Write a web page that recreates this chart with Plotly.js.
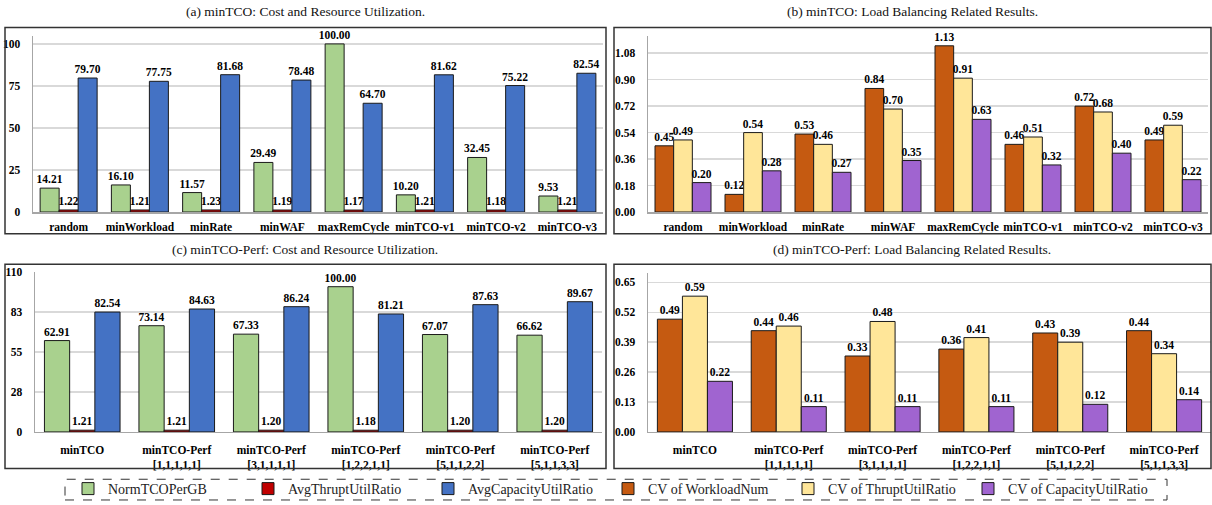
<!DOCTYPE html>
<html>
<head>
<meta charset="utf-8">
<script src="https://cdn.plot.ly/plotly-3.0.1.min.js"></script>
<style>html,body{margin:0;padding:0;background:#fff;}#chart{width:1212px;height:505px;}</style>
</head>
<body>
<div id="chart"></div>
<script>
// ---- data ----
const catsA = ['random','minWorkload','minRate','minWAF','maxRemCycle','minTCO-v1','minTCO-v2','minTCO-v3'];
const normA = [14.21, 16.10, 11.57, 29.49, 100.00, 10.20, 32.45, 9.53];
const thruA = [1.22, 1.21, 1.23, 1.19, 1.17, 1.21, 1.18, 1.21];
const capA  = [79.70, 77.75, 81.68, 78.48, 64.70, 81.62, 75.22, 82.54];

const cvWB = [0.45, 0.12, 0.53, 0.84, 1.13, 0.46, 0.72, 0.49];
const cvTB = [0.49, 0.54, 0.46, 0.70, 0.91, 0.51, 0.68, 0.59];
const cvCB = [0.20, 0.28, 0.27, 0.35, 0.63, 0.32, 0.40, 0.22];

const catsC = ['minTCO','minTCO-Perf<br>[1,1,1,1,1]','minTCO-Perf<br>[3,1,1,1,1]','minTCO-Perf<br>[1,2,2,1,1]','minTCO-Perf<br>[5,1,1,2,2]','minTCO-Perf<br>[5,1,1,3,3]'];
const normC = [62.91, 73.14, 67.33, 100.00, 67.07, 66.62];
const thruC = [1.21, 1.21, 1.20, 1.18, 1.20, 1.20];
const capC  = [82.54, 84.63, 86.24, 81.21, 87.63, 89.67];

const cvWD = [0.49, 0.44, 0.33, 0.36, 0.43, 0.44];
const cvTD = [0.59, 0.46, 0.48, 0.41, 0.39, 0.34];
const cvCD = [0.22, 0.11, 0.11, 0.11, 0.12, 0.14];

const seriesNames = ['NormTCOPerGB','AvgThruptUtilRatio','AvgCapacityUtilRatio','CV of WorkloadNum','CV of ThruptUtilRatio','CV of CapacityUtilRatio'];
const titles = ['(a) minTCO: Cost and Resource Utilization.','(b) minTCO: Load Balancing Related Results.','(c) minTCO-Perf: Cost and Resource Utilization.','(d) minTCO-Perf: Load Balancing Related Results.'];

const ticksA = [0, 25, 50, 75, 100];
const ticksB = [0, 0.18, 0.36, 0.54, 0.72, 0.90, 1.08];
const ticksC = [0, 27.5, 55, 82.5, 110];
const tickTextC = ['0', '28', '55', '83', '110'];
const ticksD = [0, 0.13, 0.26, 0.39, 0.52, 0.65];

// ---- styling ----
const W = 1212, H = 505;
const px = x => x / W;
const py = y => 1 - y / H;
const colors = ['#A9D18E', '#C00000', '#4472C4', '#C55A11', '#FFE699', '#A064D0'];
const serif = '"Liberation Serif", "Times New Roman", serif';
const labelFont = {family: serif, size: 11.5, color: '#000', weight: 'bold'};

function bar(name, x, y, idx, ax, show) {
  return {
    type: 'bar', name: name, x: x, y: y,
    xaxis: 'x' + ax, yaxis: 'y' + ax,
    marker: {color: colors[idx], line: {color: '#1a1a1a', width: 1}},
    text: y.map(v => v.toFixed(2)), textposition: 'outside',
    textfont: labelFont, constraintext: 'none', cliponaxis: false,
    showlegend: show, hoverinfo: 'x+y'
  };
}

const data = [
  bar(seriesNames[0], catsA, normA, 0, '', true),
  bar(seriesNames[1], catsA, thruA, 1, '', true),
  bar(seriesNames[2], catsA, capA, 2, '', true),
  bar(seriesNames[3], catsA, cvWB, 3, '2', true),
  bar(seriesNames[4], catsA, cvTB, 4, '2', true),
  bar(seriesNames[5], catsA, cvCB, 5, '2', true),
  bar(seriesNames[0], catsC, normC, 0, '3', false),
  bar(seriesNames[1], catsC, thruC, 1, '3', false),
  bar(seriesNames[2], catsC, capC, 2, '3', false),
  bar(seriesNames[3], catsC, cvWD, 3, '4', false),
  bar(seriesNames[4], catsC, cvTD, 4, '4', false),
  bar(seriesNames[5], catsC, cvCD, 5, '4', false)
];

function xax(d, anchor, standoff) {
  return {domain: d, anchor: anchor, showline: true, linecolor: '#A6A6A6', linewidth: 1.5,
    showgrid: false, zeroline: false, ticks: '', tickfont: labelFont, ticklabelstandoff: standoff, fixedrange: true};
}
function yax(d, anchor, range, tv, tt) {
  const o = {domain: d, anchor: anchor, range: range, tickvals: tv, showline: true, linecolor: '#A6A6A6', linewidth: 1.5,
    showgrid: true, gridcolor: '#D9D9D9', gridwidth: 1.5, zeroline: false, ticks: '', tickfont: labelFont,
    ticklabelstandoff: 9, fixedrange: true};
  if (tt) { o.ticktext = tt; } else if (range[1] < 2) { o.tickformat = '.2f'; }
  return o;
}

const topY = [py(215), py(36)];
const botY = [py(438), py(277)];

const boxLine = {color: '#333', width: 1.5};
const shapes = [
  {type: 'rect', xref: 'paper', yref: 'paper', x0: px(5), x1: px(606), y0: py(237), y1: py(28), line: boxLine},
  {type: 'rect', xref: 'paper', yref: 'paper', x0: px(614), x1: px(1211), y0: py(237), y1: py(28), line: boxLine},
  {type: 'rect', xref: 'paper', yref: 'paper', x0: px(5), x1: px(606), y0: py(475), y1: py(268), line: boxLine},
  {type: 'rect', xref: 'paper', yref: 'paper', x0: px(614), x1: px(1211), y0: py(475), y1: py(268), line: boxLine},
  {type: 'rect', xref: 'paper', yref: 'paper', x0: px(65), x1: px(1167), y0: py(507), y1: py(486), line: {color: '#333', width: 1, dash: 'dash'}}
];

const titleFont = {family: serif, size: 13.5, color: '#111'};
const annotations = [
  {text: titles[0], x: px(305), y: py(12), xref: 'paper', yref: 'paper', showarrow: false, font: titleFont, xanchor: 'center', yanchor: 'middle'},
  {text: titles[1], x: px(912), y: py(12), xref: 'paper', yref: 'paper', showarrow: false, font: titleFont, xanchor: 'center', yanchor: 'middle'},
  {text: titles[2], x: px(305), y: py(253), xref: 'paper', yref: 'paper', showarrow: false, font: titleFont, xanchor: 'center', yanchor: 'middle'},
  {text: titles[3], x: px(912), y: py(253), xref: 'paper', yref: 'paper', showarrow: false, font: titleFont, xanchor: 'center', yanchor: 'middle'}
];

const layout = {
  width: W, height: H,
  margin: {l: 0, r: 0, t: 0, b: 0},
  paper_bgcolor: '#fff', plot_bgcolor: '#fff',
  barmode: 'group', bargap: 0.2, bargroupgap: 0,
  font: {family: serif},
  xaxis: xax([px(33), px(603)], 'y', 4),
  yaxis: yax(topY, 'x', [0, 105], ticksA),
  xaxis2: xax([px(648), px(1208)], 'y2', 4),
  yaxis2: yax(topY, 'x2', [0, 1.2], ticksB),
  xaxis3: xax([px(35), px(602)], 'y3', 7),
  yaxis3: yax([py(438), py(276)], 'x3', [0, 110], ticksC, tickTextC),
  xaxis4: xax([px(648), px(1211)], 'y4', 7),
  yaxis4: yax(botY, 'x4', [0, 0.69], ticksD),
  legend: {orientation: 'h', x: px(68), xanchor: 'left', y: py(496), yanchor: 'middle',
    font: {family: serif, size: 14, color: '#222'}, bgcolor: 'rgba(0,0,0,0)', borderwidth: 0,
    traceorder: 'normal', itemwidth: 30, entrywidth: 135},
  shapes: shapes,
  annotations: annotations,
  hovermode: false
};

Plotly.newPlot('chart', data, layout, {displayModeBar: false, staticPlot: true});
</script>
</body>
</html>
